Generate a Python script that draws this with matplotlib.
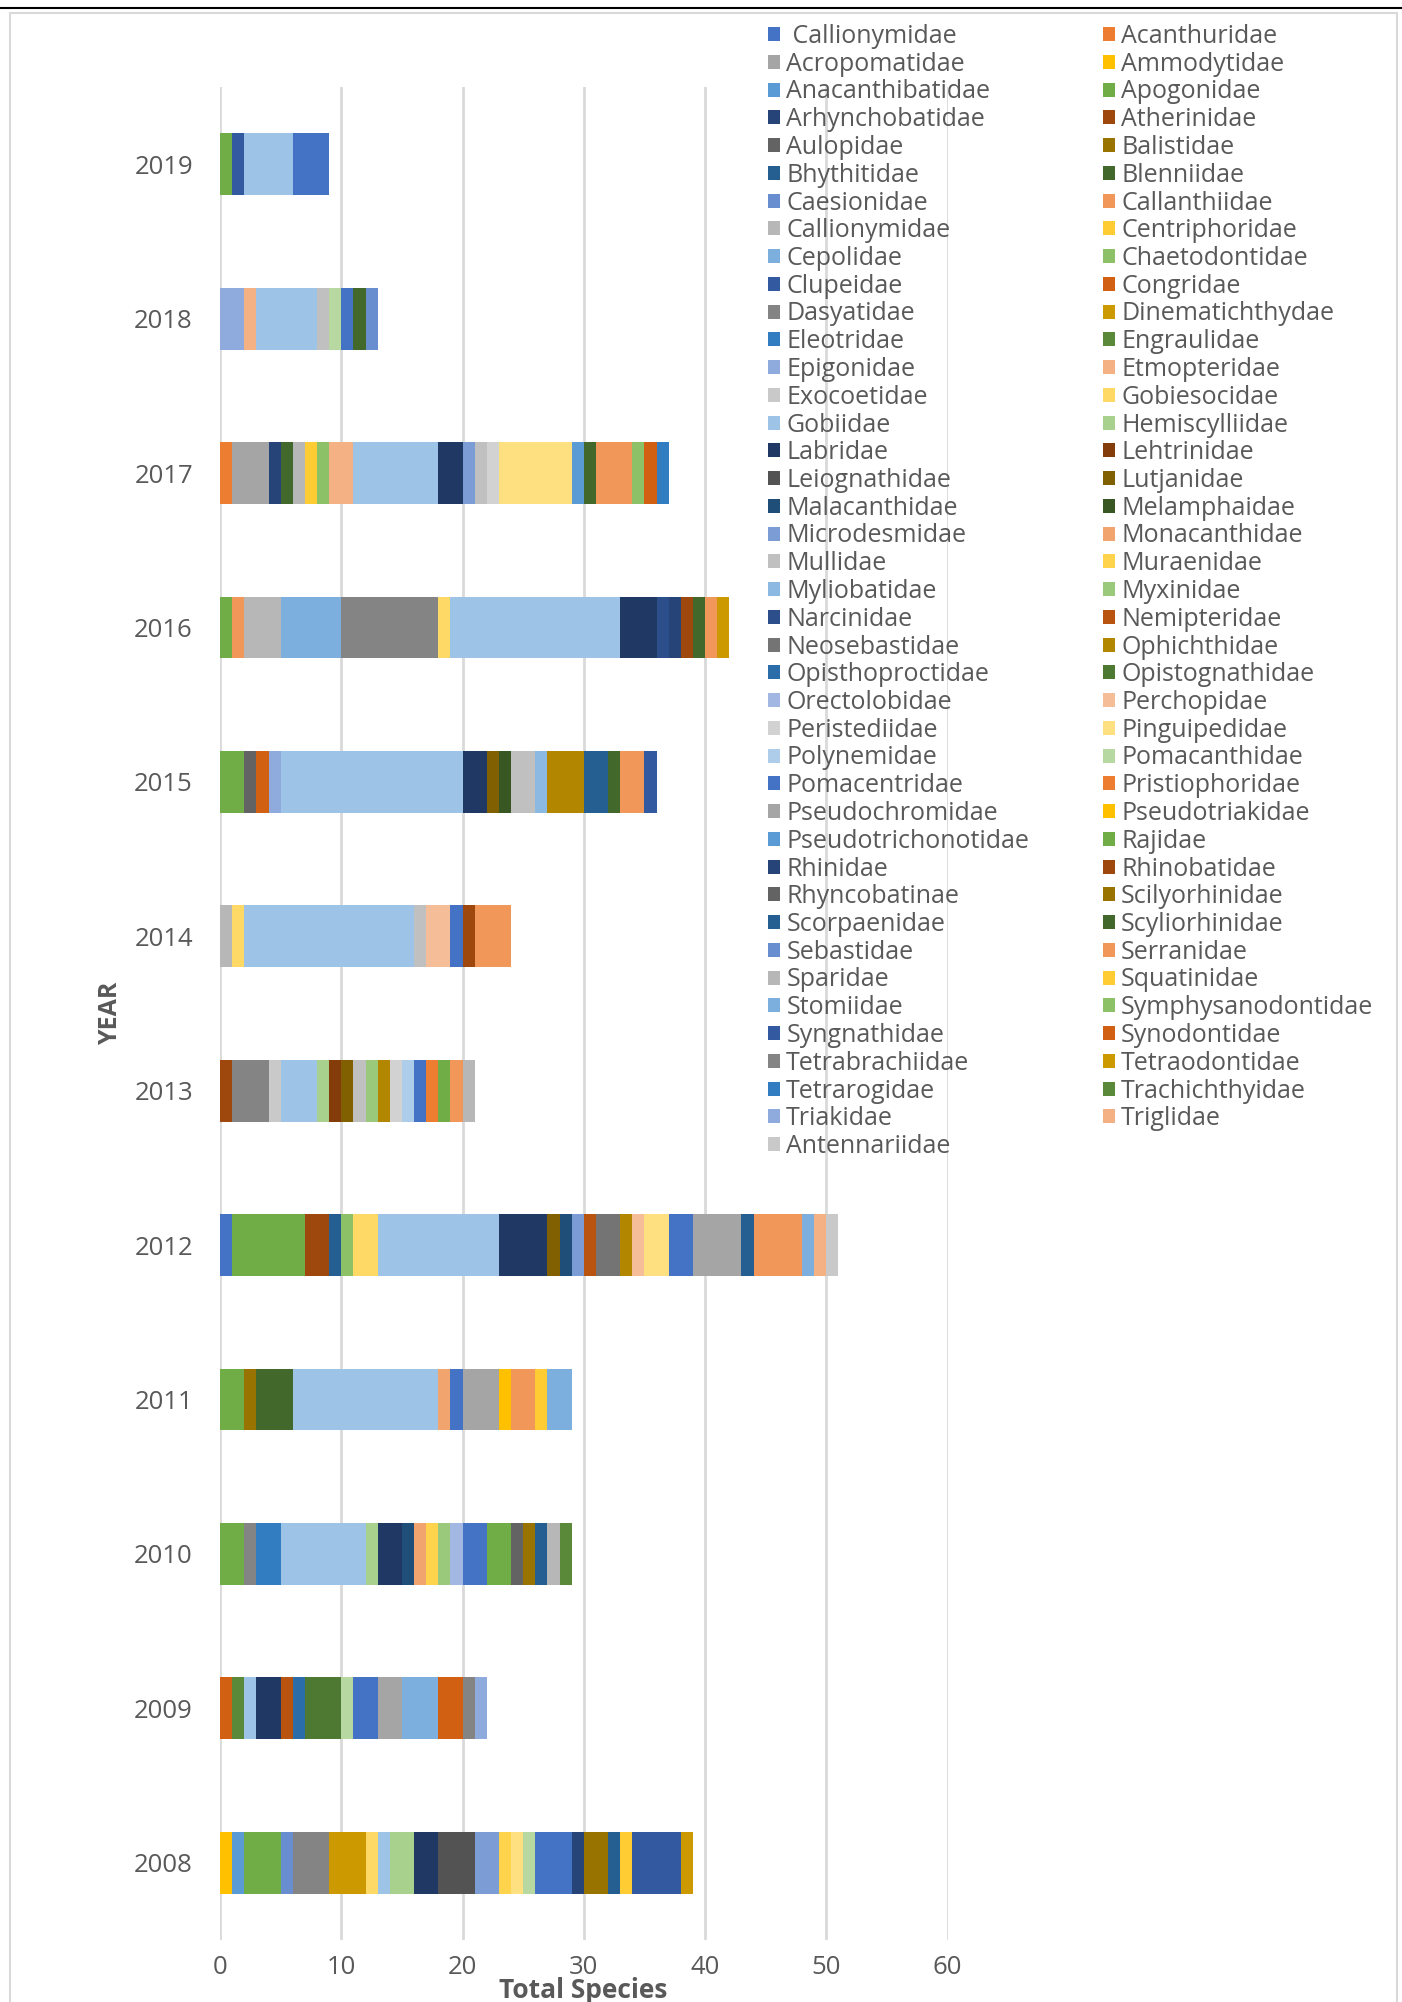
import colorsys
import matplotlib
matplotlib.use("Agg")
import matplotlib.pyplot as plt
from matplotlib.colors import to_rgb
from matplotlib.patches import Rectangle
from matplotlib.lines import Line2D

plt.rcParams["font.family"] = ["Open Sans", "DejaVu Sans"]

# === dados ===
families = [
    " Callionymidae", "Acanthuridae", "Acropomatidae", "Ammodytidae", "Anacanthibatidae", "Apogonidae",
    "Arhynchobatidae", "Atherinidae", "Aulopidae", "Balistidae", "Bhythitidae", "Blenniidae",
    "Caesionidae", "Callanthiidae", "Callionymidae", "Centriphoridae", "Cepolidae", "Chaetodontidae",
    "Clupeidae", "Congridae", "Dasyatidae", "Dinematichthydae", "Eleotridae", "Engraulidae",
    "Epigonidae", "Etmopteridae", "Exocoetidae", "Gobiesocidae", "Gobiidae", "Hemiscylliidae",
    "Labridae", "Lehtrinidae", "Leiognathidae", "Lutjanidae", "Malacanthidae", "Melamphaidae",
    "Microdesmidae", "Monacanthidae", "Mullidae", "Muraenidae", "Myliobatidae", "Myxinidae",
    "Narcinidae", "Nemipteridae", "Neosebastidae", "Ophichthidae", "Opisthoproctidae", "Opistognathidae",
    "Orectolobidae", "Perchopidae", "Peristediidae", "Pinguipedidae", "Polynemidae", "Pomacanthidae",
    "Pomacentridae", "Pristiophoridae", "Pseudochromidae", "Pseudotriakidae", "Pseudotrichonotidae", "Rajidae",
    "Rhinidae", "Rhinobatidae", "Rhyncobatinae", "Scilyorhinidae", "Scorpaenidae", "Scyliorhinidae",
    "Sebastidae", "Serranidae", "Sparidae", "Squatinidae", "Stomiidae", "Symphysanodontidae",
    "Syngnathidae", "Synodontidae", "Tetrabrachiidae", "Tetraodontidae", "Tetrarogidae", "Trachichthyidae",
    "Triakidae", "Triglidae", "Antennariidae",
]

years = ["2008", "2009", "2010", "2011", "2012", "2013", "2014", "2015", "2016", "2017", "2018", "2019"]

counts_2008 = {"Ammodytidae": 1, "Anacanthibatidae": 1, "Apogonidae": 3, "Caesionidae": 1, "Dasyatidae": 3,
               "Dinematichthydae": 3, "Gobiesocidae": 1, "Gobiidae": 1, "Hemiscylliidae": 2, "Labridae": 2,
               "Leiognathidae": 3, "Microdesmidae": 2, "Muraenidae": 1, "Pinguipedidae": 1, "Pomacanthidae": 1,
               "Pomacentridae": 3, "Rhinidae": 1, "Scilyorhinidae": 2, "Scorpaenidae": 1, "Squatinidae": 1,
               "Syngnathidae": 4, "Tetraodontidae": 1}
counts_2009 = {"Congridae": 1, "Engraulidae": 1, "Gobiidae": 1, "Labridae": 2, "Nemipteridae": 1,
               "Opisthoproctidae": 1, "Opistognathidae": 3, "Pomacanthidae": 1, "Pomacentridae": 2,
               "Pseudochromidae": 2, "Stomiidae": 3, "Synodontidae": 2, "Tetrabrachiidae": 1, "Triakidae": 1}
counts_2010 = {"Apogonidae": 2, "Dasyatidae": 1, "Eleotridae": 2, "Gobiidae": 7, "Hemiscylliidae": 1,
               "Labridae": 2, "Malacanthidae": 1, "Monacanthidae": 1, "Muraenidae": 1, "Myxinidae": 1,
               "Orectolobidae": 1, "Pomacentridae": 2, "Rajidae": 2, "Rhyncobatinae": 1, "Scilyorhinidae": 1,
               "Scorpaenidae": 1, "Sparidae": 1, "Trachichthyidae": 1}
counts_2011 = {"Apogonidae": 2, "Balistidae": 1, "Blenniidae": 3, "Gobiidae": 12, "Monacanthidae": 1,
               "Pomacentridae": 1, "Pseudochromidae": 3, "Pseudotriakidae": 1, "Serranidae": 2,
               "Squatinidae": 1, "Stomiidae": 2}
counts_2012 = {" Callionymidae": 1, "Apogonidae": 6, "Atherinidae": 2, "Bhythitidae": 1, "Chaetodontidae": 1,
               "Gobiesocidae": 2, "Gobiidae": 10, "Labridae": 4, "Lutjanidae": 1, "Malacanthidae": 1,
               "Microdesmidae": 1, "Nemipteridae": 1, "Neosebastidae": 2, "Ophichthidae": 1, "Perchopidae": 1,
               "Pinguipedidae": 2, "Pomacentridae": 2, "Pseudochromidae": 4, "Scorpaenidae": 1,
               "Serranidae": 4, "Stomiidae": 1, "Triglidae": 1, "Antennariidae": 1}
counts_2013 = {"Atherinidae": 1, "Dasyatidae": 3, "Exocoetidae": 1, "Gobiidae": 3, "Hemiscylliidae": 1,
               "Lehtrinidae": 1, "Lutjanidae": 1, "Mullidae": 1, "Myxinidae": 1, "Ophichthidae": 1,
               "Peristediidae": 1, "Polynemidae": 1, "Pomacentridae": 1, "Pristiophoridae": 1, "Rajidae": 1,
               "Serranidae": 1, "Sparidae": 1}
counts_2014 = {"Callionymidae": 1, "Gobiesocidae": 1, "Gobiidae": 14, "Mullidae": 1, "Perchopidae": 2,
               "Pomacentridae": 1, "Rhinobatidae": 1, "Serranidae": 3}
counts_2015 = {"Apogonidae": 2, "Aulopidae": 1, "Congridae": 1, "Epigonidae": 1, "Gobiidae": 15,
               "Labridae": 2, "Lutjanidae": 1, "Melamphaidae": 1, "Mullidae": 2, "Myliobatidae": 1,
               "Ophichthidae": 3, "Scorpaenidae": 2, "Scyliorhinidae": 1, "Serranidae": 2, "Syngnathidae": 1}
counts_2016 = {"Apogonidae": 1, "Callanthiidae": 1, "Callionymidae": 3, "Cepolidae": 5, "Dasyatidae": 8,
               "Gobiesocidae": 1, "Gobiidae": 14, "Labridae": 3, "Narcinidae": 1, "Rhinidae": 1,
               "Rhinobatidae": 1, "Scyliorhinidae": 1, "Serranidae": 1, "Tetraodontidae": 1}
counts_2017 = {"Acanthuridae": 1, "Acropomatidae": 3, "Arhynchobatidae": 1, "Blenniidae": 1,
               "Callionymidae": 1, "Centriphoridae": 1, "Chaetodontidae": 1, "Etmopteridae": 2, "Gobiidae": 7,
               "Labridae": 2, "Microdesmidae": 1, "Mullidae": 1, "Peristediidae": 1, "Pinguipedidae": 6,
               "Pseudotrichonotidae": 1, "Scyliorhinidae": 1, "Serranidae": 3, "Symphysanodontidae": 1,
               "Synodontidae": 1, "Tetrarogidae": 1}
counts_2018 = {"Epigonidae": 2, "Etmopteridae": 1, "Gobiidae": 5, "Mullidae": 1, "Pomacanthidae": 1,
               "Pomacentridae": 1, "Scyliorhinidae": 1, "Sebastidae": 1}
counts_2019 = {"Apogonidae": 1, "Clupeidae": 1, "Gobiidae": 4, "Pomacentridae": 3}

year_counts = [counts_2008, counts_2009, counts_2010, counts_2011, counts_2012, counts_2013,
               counts_2014, counts_2015, counts_2016, counts_2017, counts_2018, counts_2019]

# paleta padrão do Excel (acentos + variações de luminância)
ACCENTS = ["#4472C4", "#ED7D31", "#A5A5A5", "#FFC000", "#5B9BD5", "#70AD47"]
SHADES = [(1.0, 0.0), (0.6, 0.0), (0.8, 0.2), (0.8, 0.0), (0.6, 0.4),
          (0.5, 0.0), (0.7, 0.3), (0.7, 0.0), (0.5, 0.5)]


def excel_color(i):
    h, l, s = colorsys.rgb_to_hls(*to_rgb(ACCENTS[i % 6]))
    mod, off = SHADES[(i // 6) % 9]
    return colorsys.hls_to_rgb(h, min(1.0, l * mod + off), s)


W, H = 1402, 2002
TXT = "#595959"

fig = plt.figure(figsize=(W / 100, H / 100), dpi=100)
ax = fig.add_axes([220 / W, 1 - 1940 / H, (947.6 - 220) / W, (1940 - 87) / H])

ypos = list(range(len(years)))
left = [0.0] * len(years)
handles = []
for i, fam in enumerate(families):
    vals = [yc.get(fam, 0) for yc in year_counts]
    c = excel_color(i)
    ax.barh(ypos, vals, left=left, height=0.4, color=c, linewidth=0)
    left = [a + b for a, b in zip(left, vals)]
    handles.append(Rectangle((0, 0), 1, 1, facecolor=c, linewidth=0))

ax.set_xlim(0, 60)
ax.set_ylim(-0.5, len(years) - 0.5)
ax.set_xticks(range(0, 61, 10))
ax.set_yticks(ypos)
ax.set_yticklabels(years)
ax.tick_params(axis="both", length=0, labelsize=18.5, labelcolor=TXT)
ax.tick_params(axis="x", pad=11)
ax.tick_params(axis="y", pad=19.5)
ax.xaxis.grid(True, color="#D9D9D9", linewidth=2)
ax.set_axisbelow(True)
for sp in ax.spines.values():
    sp.set_visible(False)

fig.text(583 / W, 1 - 1991 / H, "Total Species", ha="center", va="center",
         fontsize=19, fontweight="bold", color=TXT)
fig.text(111 / W, 1 - 1013 / H, "YEAR", ha="center", va="center", rotation=90,
         fontsize=18, fontweight="bold", color=TXT)

# legenda em 2 colunas, ordem por linha como no Excel
order = list(range(0, len(families), 2)) + list(range(1, len(families), 2))
leg = fig.legend([handles[k] for k in order], [families[k] for k in order],
                 loc="upper left", bbox_to_anchor=(768 / W, 1 - 24 / H), ncol=2,
                 frameon=False, fontsize=18, handlelength=0.48, handleheight=0.48,
                 handletextpad=0.25, labelspacing=0.11, columnspacing=2.95,
                 borderaxespad=0, borderpad=0)
for t in leg.get_texts():
    t.set_color(TXT)

# moldura do gráfico
fig.add_artist(Rectangle((10 / W, -0.01), (1397 - 10) / W, 1.01 - 13 / H, transform=fig.transFigure,
                         fill=False, edgecolor="#D9D9D9", linewidth=1.5))
fig.add_artist(Line2D([0, 1], [1 - 8 / H, 1 - 8 / H], transform=fig.transFigure,
                      color="black", linewidth=1.5))

fig.savefig("out.png", dpi=100)
